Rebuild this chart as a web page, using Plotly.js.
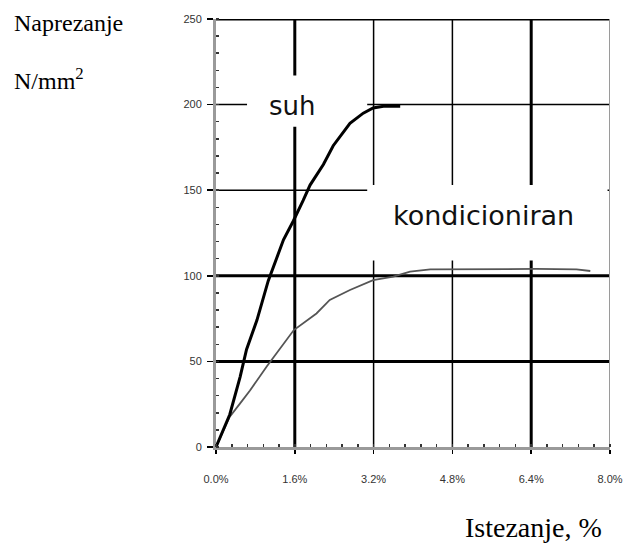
<!DOCTYPE html>
<html>
<head>
<meta charset="utf-8">
<script src="https://cdn.plot.ly/plotly-3.0.1.min.js"></script>
<style>html,body{margin:0;padding:0;background:#fff;}#chart{width:630px;height:544px;}</style>
</head>
<body>
<div id="chart"></div>
<script>
const suhX = [0, 0.28, 0.49, 0.62, 0.83, 1.06, 1.37, 1.57, 1.77, 1.91, 2.18, 2.38, 2.72, 2.99, 3.19, 3.40, 3.74];
const suhY = [0, 19, 41, 57, 74, 97, 121, 132, 144, 153, 165, 176, 189, 195, 198, 199, 199];
const kondX = [0, 0.28, 0.49, 0.69, 1.03, 1.37, 1.58, 2.04, 2.31, 2.72, 3.19, 3.60, 3.94, 4.35, 5.5, 6.5, 7.32, 7.60];
const kondY = [0, 17.7, 25.5, 33, 47, 60.6, 68.3, 78, 85.9, 91.7, 97.5, 99.5, 102.4, 103.8, 104, 104, 103.8, 102.8];
const xTickVals = [0, 1.6, 3.2, 4.8, 6.4, 8.0];
const xTickText = ["0.0%", "1.6%", "3.2%", "4.8%", "6.4%", "8.0%"];
const yTickVals = [0, 50, 100, 150, 200, 250];
const hGrid = [50, 100, 150, 200, 250];
const hGridW = [3, 3, 1.5, 1.5, 3];
const vGrid = [1.6, 3.2, 4.8, 6.4];
const vGridW = [3, 1.5, 1.5, 3];

const shapes = [];
hGrid.forEach((v, i) => shapes.push({type:'line', xref:'x', yref:'y', x0:0, x1:8, y0:v, y1:v, layer:'below', line:{color:'#000', width:hGridW[i]}}));
vGrid.forEach((v, i) => shapes.push({type:'line', xref:'x', yref:'y', x0:v, x1:v, y0:0, y1:250, layer:'below', line:{color:'#000', width:vGridW[i]}}));
shapes.push({type:'line', xref:'x', yref:'y', x0:8, x1:8, y0:0, y1:250, layer:'below', line:{color:'#9a9a9a', width:2}});
// white label boxes
shapes.push({type:'rect', xref:'x', yref:'y', x0:0.63, x1:3.07, y0:187, y1:217, layer:'below', line:{width:0}, fillcolor:'#fff'});
shapes.push({type:'rect', xref:'x', yref:'y', x0:3.07, x1:7.95, y0:109, y1:153, layer:'below', line:{width:0}, fillcolor:'#fff'});

const data = [
  {x: kondX, y: kondY, type:'scatter', mode:'lines', line:{color:'#555', width:1.8}, hoverinfo:'skip'},
  {x: suhX, y: suhY, type:'scatter', mode:'lines', line:{color:'#000', width:3}, hoverinfo:'skip'}
];

const serif = '"Liberation Serif", "Times New Roman", serif';
const layout = {
  width:630, height:544,
  margin:{l:216, r:20, t:19, b:97},
  paper_bgcolor:'#fff', plot_bgcolor:'#fff',
  showlegend:false,
  font:{family:'"Liberation Sans", Arial, sans-serif', color:'#333'},
  xaxis:{range:[0,8], tickvals:xTickVals, ticktext:xTickText, showgrid:false, zeroline:false,
    showline:true, linecolor:'#9a9a9a', linewidth:3, ticks:'outside', ticklen:4, tickcolor:'#000', tickwidth:1.5,
    ticklabelstandoff:16,
    tickfont:{size:11, color:'#333'},
    minor:{dtick:0.32, ticks:'inside', ticklen:3, tickcolor:'#333', tickwidth:1.5, showgrid:false}},
  yaxis:{range:[0,250], tickvals:yTickVals, showgrid:false, zeroline:false,
    showline:true, linecolor:'#9a9a9a', linewidth:3, ticks:'outside', ticklen:6, tickcolor:'#000', tickwidth:1.5,
    ticklabelstandoff:3,
    tickfont:{size:11, color:'#333'},
    minor:{dtick:10, ticks:'inside', ticklen:3, tickcolor:'#333', tickwidth:1.5, showgrid:false}},
  shapes: shapes,
  annotations:[
    {text:'Naprezanje', xref:'paper', yref:'paper', x:-204/394, y:1-4/428, xanchor:'left', yanchor:'middle', showarrow:false, font:{family:serif, size:24, color:'#000'}},
    {text:'N/mm<sup>2</sup>', xref:'paper', yref:'paper', x:-204/394, y:1-60/428, xanchor:'left', yanchor:'middle', showarrow:false, font:{family:serif, size:24, color:'#000'}},
    {text:'Istezanje, %', xref:'paper', yref:'paper', x:1-6/394, y:-80/428, xanchor:'right', yanchor:'middle', showarrow:false, font:{family:serif, size:28, color:'#000'}},
    {text:'suh', xref:'x', yref:'y', x:1.55, y:199, xanchor:'center', yanchor:'middle', showarrow:false, font:{family:'"DejaVu Sans", sans-serif', size:26, color:'#111'}},
    {text:'kondicioniran', xref:'x', yref:'y', x:5.44, y:135, xanchor:'center', yanchor:'middle', showarrow:false, font:{family:'"DejaVu Sans", sans-serif', size:27, color:'#111'}}
  ]
};

Plotly.newPlot('chart', data, layout, {staticPlot:true, displayModeBar:false});
</script>
</body>
</html>
